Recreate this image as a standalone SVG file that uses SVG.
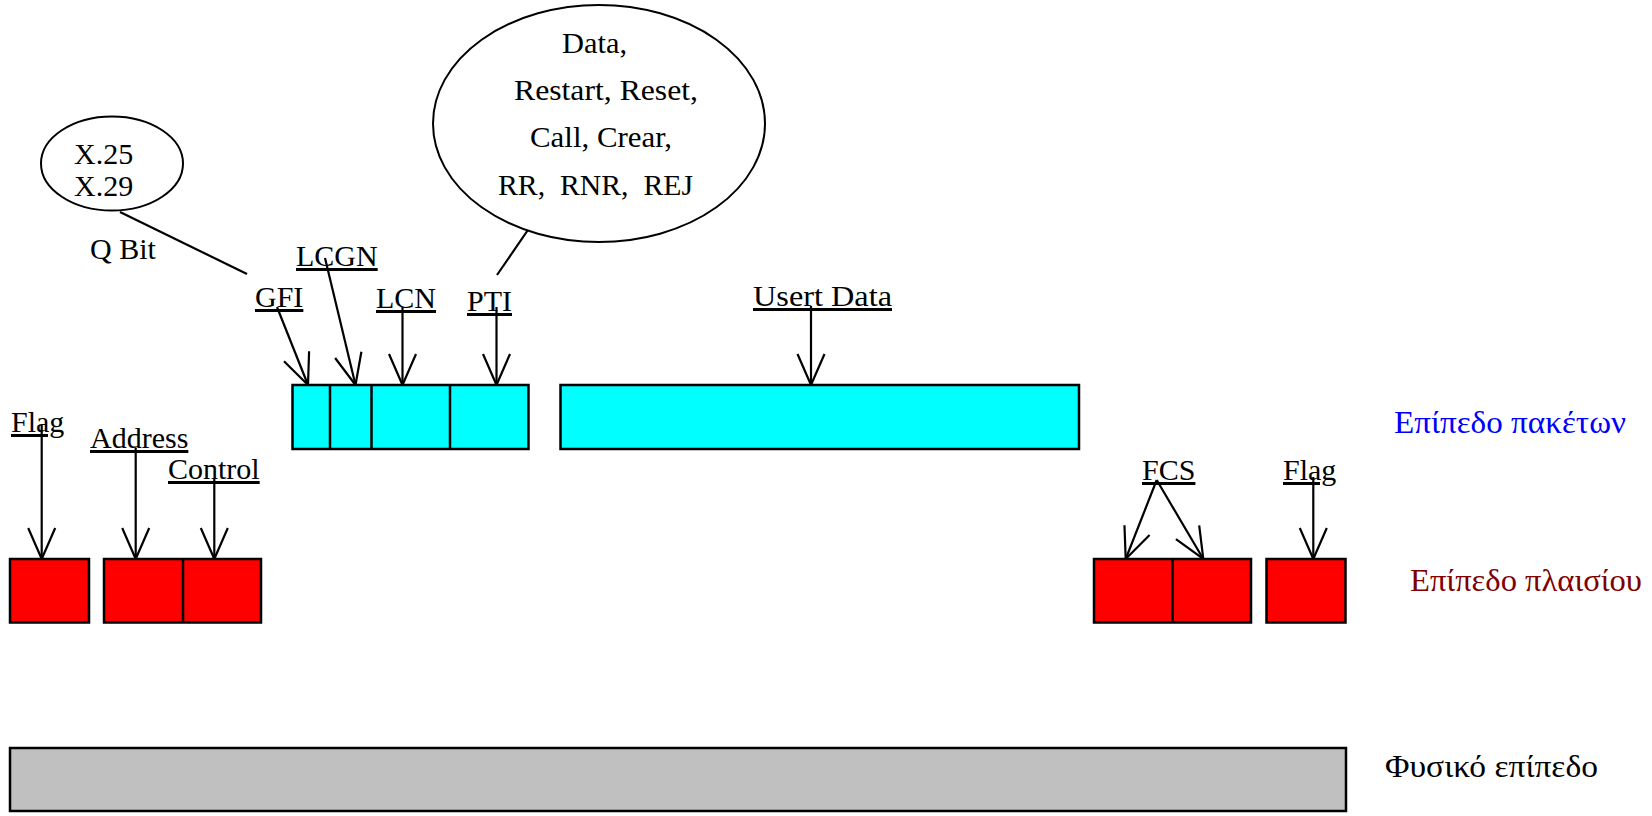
<svg xmlns="http://www.w3.org/2000/svg" width="1652" height="816" viewBox="0 0 1652 816">
<style>
text{font-family:"Liberation Serif","DejaVu Serif",serif;font-size:30px;fill:#000}
.u{text-decoration:underline}
.g{font-size:31px}
.box{stroke:#000;stroke-width:2.5}
.pk{fill:#00FFFF}
.fr{fill:#FF0000}
.ph{fill:#C0C0C0}
.ell{fill:#fff;stroke:#000;stroke-width:2}
.con line{stroke:#000;stroke-width:2.2;fill:none}
.arr{marker-end:url(#v)}
</style>
<defs>
<marker id="v" markerUnits="userSpaceOnUse" orient="auto" refX="0" refY="0" markerWidth="40" markerHeight="40" overflow="visible">
<path d="M-31,-13.5 L0,0 L-31,13.5" fill="none" stroke="#000" stroke-width="2.2"/>
</marker>
</defs>
<rect width="1652" height="816" fill="#fff"/>

<g id="connectors" class="con">
<line x1="120" y1="212" x2="247" y2="274"/>
<line x1="530" y1="227" x2="497" y2="275"/>
<line class="arr" x1="277" y1="307" x2="308" y2="385"/>
<line class="arr" x1="325" y1="258" x2="355.5" y2="385"/>
<line class="arr" x1="402.5" y1="307" x2="402.5" y2="385"/>
<line class="arr" x1="496.5" y1="307" x2="496.5" y2="385"/>
<line class="arr" x1="811" y1="306" x2="811" y2="385"/>
<line class="arr" x1="41.7" y1="425" x2="41.7" y2="559"/>
<line class="arr" x1="135.7" y1="448" x2="135.7" y2="559"/>
<line class="arr" x1="214.3" y1="479" x2="214.3" y2="559"/>
<line class="arr" x1="1156.7" y1="480" x2="1125.7" y2="559"/>
<line class="arr" x1="1156.7" y1="480" x2="1203.3" y2="559"/>
<line class="arr" x1="1313.3" y1="477" x2="1313.3" y2="559"/>
</g>

<g id="node-x25">
<ellipse class="ell" cx="112" cy="163.5" rx="71" ry="47"/>
<text x="74" y="164" font-size="28">X.25</text>
<text x="74" y="196" font-size="28">X.29</text>
</g>
<g id="label-qbit"><text x="90" y="259">Q Bit</text></g>

<g id="node-pti-types">
<ellipse class="ell" cx="599" cy="123.5" rx="166" ry="118.5"/>
<text x="562" y="53" textLength="65" lengthAdjust="spacingAndGlyphs">Data,</text>
<text x="514" y="100" textLength="184" lengthAdjust="spacingAndGlyphs">Restart, Reset,</text>
<text x="530" y="147" textLength="142" lengthAdjust="spacingAndGlyphs">Call, Crear,</text>
<text x="498" y="195" textLength="195" lengthAdjust="spacingAndGlyphs" xml:space="preserve">RR,  RNR,  REJ</text>
</g>

<g id="labels-packet">
<text class="u" x="296" y="266">LCGN</text>
<text class="u" x="255" y="307">GFI</text>
<text class="u" x="376" y="308">LCN</text>
<text class="u" x="467" y="311">PTI</text>
<text class="u" x="753" y="306" textLength="139" lengthAdjust="spacingAndGlyphs">Usert Data</text>
</g>

<g id="packet-header">
<rect class="box pk" x="292.5" y="385" width="236" height="64"/>
<line x1="330" y1="385" x2="330" y2="449" stroke="#000" stroke-width="2.5"/>
<line x1="371.5" y1="385" x2="371.5" y2="449" stroke="#000" stroke-width="2.5"/>
<line x1="450" y1="385" x2="450" y2="449" stroke="#000" stroke-width="2.5"/>
</g>
<g id="packet-data">
<rect class="box pk" x="560.5" y="385" width="518.5" height="64"/>
</g>

<g id="labels-frame">
<text class="u" x="11" y="432">Flag</text>
<text class="u" x="90" y="448">Address</text>
<text class="u" x="168" y="479">Control</text>
<text class="u" x="1142" y="480">FCS</text>
<text class="u" x="1283" y="480">Flag</text>
</g>

<g id="frame-flag1"><rect class="box fr" x="10" y="559" width="79" height="63.5"/></g>
<g id="frame-addr-ctrl">
<rect class="box fr" x="104" y="559" width="157" height="63.5"/>
<line x1="183" y1="559" x2="183" y2="622.5" stroke="#000" stroke-width="2.5"/>
</g>
<g id="frame-fcs">
<rect class="box fr" x="1094" y="559" width="157" height="63.5"/>
<line x1="1172.5" y1="559" x2="1172.5" y2="622.5" stroke="#000" stroke-width="2.5"/>
</g>
<g id="frame-flag2"><rect class="box fr" x="1266.5" y="559" width="79" height="63.5"/></g>

<g id="physical"><rect class="box ph" x="10" y="748" width="1336" height="63"/></g>

<g id="layer-labels">
<text class="g" x="1394" y="433" textLength="232" lengthAdjust="spacingAndGlyphs" style="fill:#0000FF">Επίπεδο πακέτων</text>
<text class="g" x="1410" y="591" textLength="232" lengthAdjust="spacingAndGlyphs" style="fill:#800000">Επίπεδο πλαισίου</text>
<text class="g" x="1385" y="777" textLength="213" lengthAdjust="spacingAndGlyphs">Φυσικό επίπεδο</text>
</g>
</svg>
